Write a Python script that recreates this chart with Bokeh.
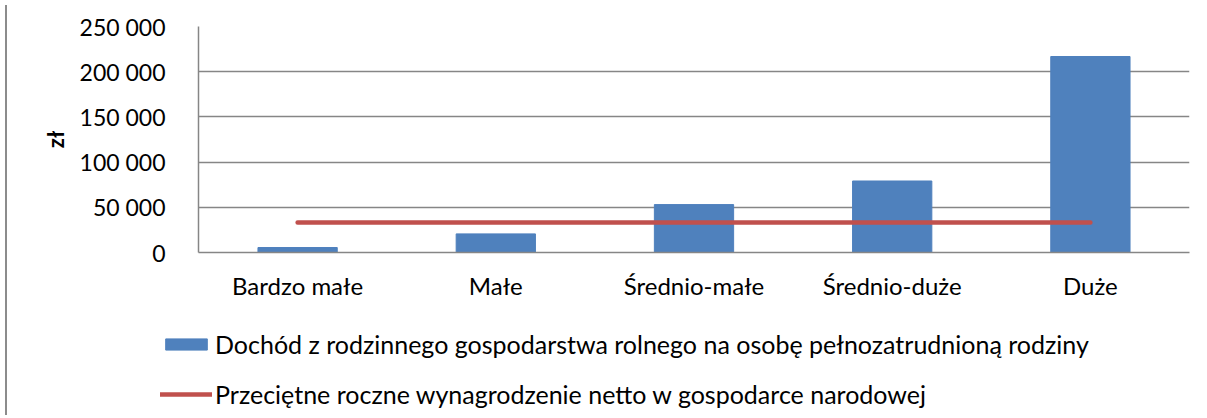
from bokeh.plotting import figure
from bokeh.models import Range1d, Legend, LegendItem, Div, FixedTicker
from bokeh.layouts import row, column
from bokeh.embed import file_html
from bokeh.resources import INLINE

categories = ["Bardzo małe", "Małe", "Średnio-małe", "Średnio-duże", "Duże"]
income = [5500, 20600, 53000, 79100, 216800]
wage = [33100, 33100, 33100, 33100, 33100]
y_ticks = [0, 50000, 100000, 150000, 200000, 250000]
y_tick_labels = ["0", "50 000", "100 000", "150 000", "200 000", "250 000"]
income_label = "Dochód z rodzinnego gospodarstwa rolnego na osobę pełnozatrudnioną rodziny"
wage_label = "Przeciętne roczne wynagrodzenie netto w gospodarce narodowej"
y_label = "zł"

FONT = "Lato"
GRID = "#868686"
BAR_COLOR = "#4F81BD"
LINE_COLOR = "#C0504D"

p = figure(x_range=categories, y_range=Range1d(0, 250000),
           width=1189, height=310, output_backend="svg", toolbar_location=None,
           min_border_left=186, min_border_right=12, min_border_top=26, min_border_bottom=58)
p.frame_align = False
p.x_range.range_padding = 0
p.outline_line_color = None

bars = p.vbar(x=categories, top=income, width=0.4, fill_color=BAR_COLOR, line_color=BAR_COLOR)
ln = p.line(x=categories, y=wage, line_color=LINE_COLOR, line_width=4.5, line_cap="round")

p.yaxis.ticker = FixedTicker(ticks=y_ticks)
p.yaxis.major_label_overrides = {t: l for t, l in zip(y_ticks, y_tick_labels)}
p.yaxis.axis_label = y_label
p.yaxis.axis_label_text_font = FONT
p.yaxis.axis_label_text_font_style = "bold"
p.yaxis.axis_label_text_font_size = "22px"
p.yaxis.axis_label_text_color = "black"
p.yaxis.axis_label_standoff = 8
for ax in (p.xaxis, p.yaxis):
    ax.major_label_text_font = FONT
    ax.major_label_text_color = "black"
    ax.axis_line_color = GRID
    ax.axis_line_width = 1.5
    ax.major_tick_line_color = None
    ax.minor_tick_line_color = None
p.yaxis.major_label_text_font_size = "23px"
p.xaxis.major_label_text_font_size = "24px"
p.yaxis.major_label_standoff = 27
p.xaxis.major_label_standoff = 12

p.xgrid.grid_line_color = None
p.ygrid.grid_line_color = GRID
p.ygrid.grid_line_width = 1.5

# legend panel below the chart (its sample glyphs lie outside the visible range)
lf = figure(width=1189, height=100, output_backend="svg", toolbar_location=None,
            x_range=Range1d(0, 1), y_range=Range1d(0, 1),
            x_axis_location=None, y_axis_location=None,
            min_border_left=148, min_border_top=19, min_border_right=0, min_border_bottom=0)
lf.frame_align = False
lf.outline_line_color = None
lf.grid.visible = False
lb = lf.vbar(x=[-50], top=[-50], bottom=[-60], width=0.4, fill_color=BAR_COLOR, line_color=BAR_COLOR)
ll = lf.line(x=[-60, -50], y=[-50, -50], line_color=LINE_COLOR, line_width=4.5, line_cap="round")
legend = Legend(items=[LegendItem(label=income_label, renderers=[lb]),
                       LegendItem(label=wage_label, renderers=[ll])],
                location="top_left", orientation="vertical",
                label_text_font=FONT, label_text_font_size="25px", label_text_color="black",
                glyph_width=52, glyph_height=14, label_height=24,
                label_standoff=3, spacing=20, padding=0, margin=0,
                border_line_color=None, background_fill_alpha=0)
lf.add_layout(legend, "center")

border = Div(text="", width=2, height=410, styles={"background-color": "#8c8c8c"})
layout = row(border, column(p, lf))

open("out.html", "w").write(file_html(layout, INLINE))
